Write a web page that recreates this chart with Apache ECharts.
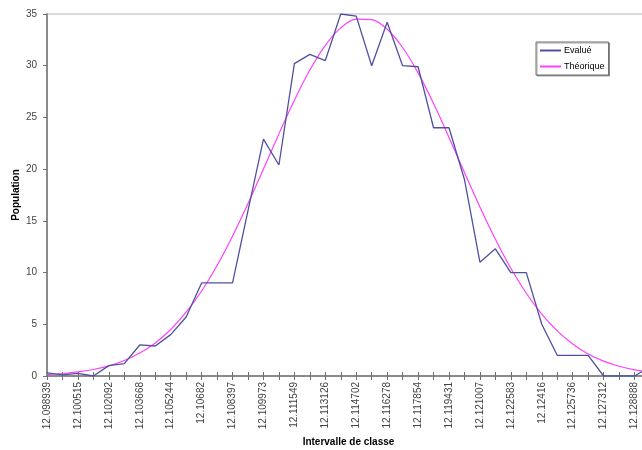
<!DOCTYPE html>
<html>
<head>
<meta charset="utf-8">
<script src="https://cdn.jsdelivr.net/npm/echarts@6/dist/echarts.min.js"></script>
<style>
html,body{margin:0;padding:0;background:#fff;overflow:hidden;width:642px;height:450px;}
#c{width:660px;height:450px;}
</style>
</head>
<body>
<div id="c"></div>
<script>
var categories = ["12.098939","12.099727","12.100515","12.101304","12.102092","12.102880","12.103668","12.104456","12.105244","12.106032",
"12.10682","12.107609","12.108397","12.109185","12.109973","12.110761","12.111549","12.112337","12.113126","12.113914",
"12.114702","12.115490","12.116278","12.117066","12.117854","12.118643","12.119431","12.120219","12.121007","12.121795",
"12.122583","12.123371","12.12416","12.124948","12.125736","12.126524","12.127312","12.128100","12.128888","12.129676"];
var evalue = [0.3,0.1,0.25,0,1.0,1.2,3.0,2.9,4.0,5.7,
9.0,9.0,9.0,16.0,22.9,20.4,30.2,31.1,30.5,35.0,
34.8,30.0,34.2,30.0,29.9,24.0,24.0,19.0,11.0,12.3,
10.0,10.0,5.0,2.0,2.0,2.0,0,0,0,0.9];
var theorique = [0.14,0.24,0.39,0.63,0.98,1.50,2.22,3.20,4.50,6.17,
8.22,10.69,13.52,16.67,20.02,23.41,26.66,29.58,31.97,33.66,
34.51,34.46,33.52,31.76,29.31,26.35,23.07,19.67,16.34,13.22,
10.42,8.00,5.98,4.36,3.09,2.13,1.44,0.94,0.60,0.37];
var yTicks = {min:0, max:35, interval:5};

var font = "'Liberation Sans', Arial, sans-serif";
var chart = echarts.init(document.getElementById('c'), null, {renderer:'canvas'});
chart.setOption({
  animation:false,
  backgroundColor:'#fff',
  grid:{left:47, top:14, right:10, bottom:74, outerBoundsMode:'none', containLabel:false,
        show:true, borderColor:'#d0d0d0', borderWidth:1.5, backgroundColor:'transparent'},
  legend:{
    orient:'vertical', left:536, top:42,
    padding:[4,4,4,3], itemWidth:21, itemHeight:8, itemGap:7,
    backgroundColor:'#fff', borderColor:'#707070', borderWidth:1,
    shadowColor:'rgba(0,0,0,0.35)', shadowOffsetX:1, shadowOffsetY:1, shadowBlur:0,
    itemStyle:{opacity:0},
    textStyle:{fontFamily:font, fontSize:9, color:'#000', padding:[0,0,0,-2]},
    data:['Evalué','Théorique']
  },
  xAxis:[{
    type:'category', data:categories, boundaryGap:false,
    name:'Intervalle de classe', nameLocation:'middle', nameGap:61,
    nameTextStyle:{fontFamily:font, fontSize:10, fontWeight:'bold', color:'#000'},
    axisLine:{lineStyle:{color:'#707070', width:1.5}},
    axisTick:{show:true, interval:0, length:4, lineStyle:{color:'#707070'}},
    axisLabel:{interval:1, rotate:90, fontFamily:font, fontSize:10, color:'#444', margin:6},
    splitLine:{show:false}
  },{
    type:'category', data:categories, boundaryGap:false, position:'bottom',
    axisLine:{show:false},
    axisTick:{show:true, inside:true, interval:0, length:4, lineStyle:{color:'#707070'}},
    axisLabel:{show:false}, splitLine:{show:false}
  }],
  yAxis:{
    type:'value', min:yTicks.min, max:yTicks.max, interval:yTicks.interval,
    name:'Population', nameLocation:'middle', nameGap:26, nameRotate:90, nameMoveOverlap:false,
    nameTextStyle:{fontFamily:font, fontSize:10, fontWeight:'bold', color:'#000'},
    axisLine:{show:true, lineStyle:{color:'#707070', width:1.5}},
    axisTick:{show:true, length:4, lineStyle:{color:'#707070'}},
    axisLabel:{fontFamily:font, fontSize:10, color:'#444', margin:10},
    splitLine:{show:false}
  },
  series:[{
    name:'Evalué', type:'line', data:evalue, symbol:'none', smooth:false,
    lineStyle:{color:'#5050a0', width:1.3}, itemStyle:{color:'#5050a0'}, z:3
  },{
    name:'Théorique', type:'line', data:theorique, symbol:'none', smooth:0.35,
    lineStyle:{color:'#ff40ff', width:1.2}, itemStyle:{color:'#ff40ff'}, z:2
  }]
});
</script>
</body>
</html>
